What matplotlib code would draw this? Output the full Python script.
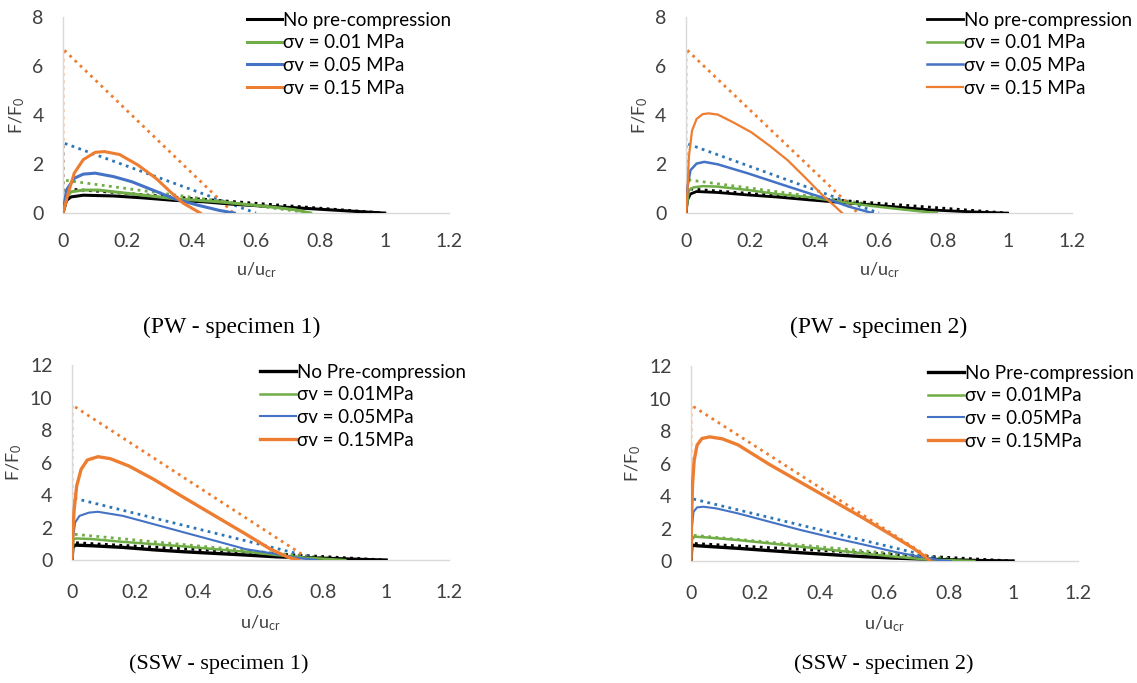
import matplotlib
matplotlib.use("Agg")
import matplotlib.pyplot as plt

plt.rcParams['font.family'] = ['Lato', 'DejaVu Sans']

# ---------------- PW - specimen 1 ----------------
pw1_blk_x = [0, 0.011, 0.025, 0.063, 0.157, 0.25, 0.345, 0.44, 0.53, 0.63, 0.72, 0.82, 0.91, 1.0]
pw1_blk_y = [0, 0.52, 0.66, 0.73, 0.70, 0.62, 0.52, 0.46, 0.36, 0.28, 0.22, 0.14, 0.07, 0.0]
pw1_grn_x = [0, 0.011, 0.025, 0.063, 0.11, 0.204, 0.345, 0.486, 0.627, 0.72, 0.77]
pw1_grn_y = [0, 0.66, 0.87, 0.94, 0.94, 0.80, 0.59, 0.46, 0.28, 0.14, 0.0]
pw1_blu_x = [0, 0.011, 0.035, 0.063, 0.10, 0.157, 0.214, 0.279, 0.345, 0.42, 0.486, 0.533]
pw1_blu_y = [0, 0.94, 1.42, 1.59, 1.63, 1.49, 1.28, 0.94, 0.59, 0.32, 0.11, 0.0]
pw1_org_x = [0, 0.016, 0.035, 0.063, 0.10, 0.129, 0.176, 0.232, 0.289, 0.345, 0.373, 0.427]
pw1_org_y = [0, 0.80, 1.63, 2.18, 2.48, 2.51, 2.39, 1.97, 1.42, 0.73, 0.41, 0.0]
pw1_blk_fit_x, pw1_blk_fit_y = [0, 0, 1.0], [0, 1.0, 0]
pw1_grn_fit_x, pw1_grn_fit_y = [0, 0, 0.77], [0, 1.35, 0]
pw1_blu_fit_x, pw1_blu_fit_y = [0, 0, 0.60], [0, 2.87, 0]
pw1_org_fit_x, pw1_org_fit_y = [0, 0, 0.53], [0, 6.7, 0]

# ---------------- PW - specimen 2 ----------------
pw2_blk_x = [0, 0.005, 0.014, 0.033, 0.099, 0.193, 0.288, 0.382, 0.476, 0.57, 0.665, 0.76, 0.854, 0.93, 1.0]
pw2_blk_y = [0, 0.54, 0.78, 0.88, 0.84, 0.74, 0.65, 0.54, 0.44, 0.34, 0.24, 0.13, 0.07, 0.03, 0.0]
pw2_grn_x = [0, 0.009, 0.024, 0.052, 0.099, 0.193, 0.288, 0.382, 0.476, 0.57, 0.665, 0.78]
pw2_grn_y = [0, 0.94, 1.05, 1.10, 1.08, 0.94, 0.77, 0.65, 0.47, 0.30, 0.16, 0.0]
pw2_blu_x = [0, 0.005, 0.014, 0.033, 0.057, 0.099, 0.193, 0.288, 0.382, 0.448, 0.505, 0.58]
pw2_blu_y = [0, 1.08, 1.75, 2.02, 2.09, 1.99, 1.62, 1.21, 0.81, 0.54, 0.27, 0.0]
pw2_org_x = [0, 0.005, 0.009, 0.019, 0.033, 0.052, 0.071, 0.099, 0.146, 0.203, 0.259, 0.316, 0.373, 0.429, 0.458, 0.486]
pw2_org_y = [0, 0.94, 2.29, 3.37, 3.84, 4.04, 4.07, 4.02, 3.71, 3.30, 2.76, 2.16, 1.42, 0.67, 0.34, 0.0]
pw2_blk_fit_x, pw2_blk_fit_y = [0, 0, 1.0], [0, 1.0, 0]
pw2_grn_fit_x, pw2_grn_fit_y = [0, 0, 0.78], [0, 1.37, 0]
pw2_blu_fit_x, pw2_blu_fit_y = [0, 0, 0.60], [0, 2.85, 0]
pw2_org_fit_x, pw2_org_fit_y = [0, 0, 0.535], [0, 6.7, 0]

# ---------------- SSW - specimen 1 ----------------
ssw1_blk_x = [0, 0.003, 0.01, 0.064, 0.162, 0.26, 0.357, 0.455, 0.553, 0.651, 0.75, 0.85, 0.95, 1.0]
ssw1_blk_y = [0, 0.78, 0.92, 0.88, 0.78, 0.63, 0.51, 0.41, 0.31, 0.20, 0.14, 0.08, 0.02, 0.0]
ssw1_grn_x = [0, 0.005, 0.015, 0.064, 0.162, 0.26, 0.357, 0.455, 0.553, 0.651, 0.75, 0.87]
ssw1_grn_y = [0, 1.29, 1.33, 1.29, 1.12, 0.98, 0.84, 0.67, 0.51, 0.31, 0.14, 0.0]
ssw1_blu_x = [0, 0.003, 0.01, 0.024, 0.054, 0.083, 0.162, 0.26, 0.357, 0.455, 0.553, 0.651, 0.71, 0.78]
ssw1_blu_y = [0, 1.29, 2.31, 2.72, 2.92, 2.97, 2.72, 2.21, 1.70, 1.19, 0.67, 0.37, 0.16, 0.0]
ssw1_org_x = [0, 0.003, 0.007, 0.015, 0.029, 0.049, 0.083, 0.122, 0.181, 0.26, 0.357, 0.455, 0.553, 0.632, 0.69, 0.72]
ssw1_org_y = [0, 1.7, 3.13, 4.56, 5.58, 6.16, 6.36, 6.24, 5.79, 4.97, 3.84, 2.72, 1.60, 0.67, 0.16, 0.0]
ssw1_blk_fit_x, ssw1_blk_fit_y = [0, 0, 1.0], [0, 1.08, 0]
ssw1_grn_fit_x, ssw1_grn_fit_y = [0, 0, 0.88], [0, 1.6, 0]
ssw1_blu_fit_x, ssw1_blu_fit_y = [0, 0, 0.80], [0, 3.84, 0]
ssw1_org_fit_x, ssw1_org_fit_y = [0, 0, 0.76], [0, 9.55, 0]

# ---------------- SSW - specimen 2 ----------------
ssw2_blk_x = [0, 0.003, 0.019, 0.146, 0.243, 0.34, 0.437, 0.534, 0.631, 0.728, 0.825, 0.92, 1.0]
ssw2_blk_y = [0, 0.98, 0.94, 0.78, 0.64, 0.51, 0.39, 0.27, 0.18, 0.12, 0.06, 0.02, 0.0]
ssw2_grn_x = [0, 0.003, 0.01, 0.049, 0.146, 0.243, 0.34, 0.437, 0.534, 0.631, 0.728, 0.88]
ssw2_grn_y = [0, 1.29, 1.50, 1.45, 1.29, 1.09, 0.88, 0.68, 0.47, 0.27, 0.10, 0.0]
ssw2_blu_x = [0, 0.003, 0.008, 0.019, 0.039, 0.078, 0.146, 0.243, 0.34, 0.437, 0.534, 0.631, 0.709, 0.767, 0.806]
ssw2_blu_y = [0, 2.11, 3.03, 3.30, 3.34, 3.24, 2.93, 2.42, 1.91, 1.45, 1.02, 0.57, 0.27, 0.06, 0.0]
ssw2_org_x = [0, 0.002, 0.005, 0.01, 0.019, 0.034, 0.058, 0.097, 0.146, 0.243, 0.34, 0.437, 0.534, 0.631, 0.689, 0.718, 0.743]
ssw2_org_y = [0, 2.7, 4.77, 6.2, 7.13, 7.54, 7.64, 7.52, 7.15, 5.95, 4.85, 3.75, 2.65, 1.50, 0.80, 0.40, 0.0]
ssw2_blk_fit_x, ssw2_blk_fit_y = [0, 0, 1.0], [0, 1.09, 0]
ssw2_grn_fit_x, ssw2_grn_fit_y = [0, 0, 0.88], [0, 1.6, 0]
ssw2_blu_fit_x, ssw2_blu_fit_y = [0, 0, 0.80], [0, 3.85, 0]
ssw2_org_fit_x, ssw2_org_fit_y = [0, 0, 0.757], [0, 9.6, 0]

labels_pw = ['No pre-compression', 'σv = 0.01 MPa', 'σv = 0.05 MPa', 'σv = 0.15 MPa']
labels_ssw = ['No Pre-compression', 'σv = 0.01MPa', 'σv = 0.05MPa', 'σv = 0.15MPa']
titles = ['(PW - specimen 1)', '(PW - specimen 2)', '(SSW - specimen 1)', '(SSW - specimen 2)']

colors = ['black', '#70AD47', '#4472C4', '#ED7D31']
fitcolors = ['black', '#70AD47', '#2E75B6', '#ED7D31']

panels = [
    dict(pos=[0.0554, 0.688, 0.3395, 0.287], ymax=8, yt=[0, 2, 4, 6, 8], labels=labels_pw,
         curves=[(pw1_blk_x, pw1_blk_y), (pw1_grn_x, pw1_grn_y), (pw1_blu_x, pw1_blu_y), (pw1_org_x, pw1_org_y)],
         fits=[(pw1_blk_fit_x, pw1_blk_fit_y), (pw1_grn_fit_x, pw1_grn_fit_y), (pw1_blu_fit_x, pw1_blu_fit_y), (pw1_org_fit_x, pw1_org_fit_y)],
         lws=[2.2, 2.2, 2.2, 2.2], title_y=0.52, title_dx=-0.021, title_fs=17,
         leg=(1.03, 1.075), xpad=14, xlpad=8),
    dict(pos=[0.6033, 0.688, 0.3395, 0.287], ymax=8, yt=[0, 2, 4, 6, 8], labels=labels_pw,
         curves=[(pw2_blk_x, pw2_blk_y), (pw2_grn_x, pw2_grn_y), (pw2_blu_x, pw2_blu_y), (pw2_org_x, pw2_org_y)],
         fits=[(pw2_blk_fit_x, pw2_blk_fit_y), (pw2_grn_fit_x, pw2_grn_fit_y), (pw2_blu_fit_x, pw2_blu_fit_y), (pw2_org_fit_x, pw2_org_fit_y)],
         lws=[2.0, 1.8, 1.8, 1.6], title_y=0.52, title_dx=0.0, title_fs=17,
         leg=(1.18, 1.075), xpad=14, xlpad=8),
    dict(pos=[0.0633, 0.180, 0.3316, 0.2855], ymax=12, yt=[0, 2, 4, 6, 8, 10, 12], labels=labels_ssw,
         curves=[(ssw1_blk_x, ssw1_blk_y), (ssw1_grn_x, ssw1_grn_y), (ssw1_blu_x, ssw1_blu_y), (ssw1_org_x, ssw1_org_y)],
         fits=[(ssw1_blk_fit_x, ssw1_blk_fit_y), (ssw1_grn_fit_x, ssw1_grn_fit_y), (ssw1_blu_fit_x, ssw1_blu_fit_y), (ssw1_org_fit_x, ssw1_org_fit_y)],
         lws=[2.4, 1.8, 1.5, 2.4], title_y=0.028, title_dx=-0.037, title_fs=16,
         leg=(1.07, 1.055), xpad=17, xlpad=9),
    dict(pos=[0.6077, 0.1786, 0.340, 0.2855], ymax=12, yt=[0, 2, 4, 6, 8, 10, 12], labels=labels_ssw,
         curves=[(ssw2_blk_x, ssw2_blk_y), (ssw2_grn_x, ssw2_grn_y), (ssw2_blu_x, ssw2_blu_y), (ssw2_org_x, ssw2_org_y)],
         fits=[(ssw2_blk_fit_x, ssw2_blk_fit_y), (ssw2_grn_fit_x, ssw2_grn_fit_y), (ssw2_blu_fit_x, ssw2_blu_fit_y), (ssw2_org_fit_x, ssw2_org_fit_y)],
         lws=[2.4, 1.8, 1.5, 2.4], title_y=0.028, title_dx=0.0, title_fs=16,
         leg=(1.17, 1.055), xpad=17, xlpad=9),
]

fig = plt.figure(figsize=(11.37, 6.83), dpi=100)

for i, p in enumerate(panels):
    ax = fig.add_axes(p['pos'])
    for (fx, fy), c in zip(p['fits'], fitcolors):
        ax.plot(fx, fy, color=c, lw=2.0, ls=(0, (1, 1.6)), dash_capstyle='butt', zorder=2)
    for (cx, cy), c, lw, lab in zip(p['curves'], colors, p['lws'], p['labels']):
        ax.plot(cx, cy, color=c, lw=lw, label=lab, zorder=3, solid_joinstyle='round')
    ax.set_xlim(0, 1.2)
    ax.set_ylim(0, p['ymax'])
    ax.set_xticks([0, 0.2, 0.4, 0.6, 0.8, 1, 1.2])
    ax.set_xticklabels(['0', '0.2', '0.4', '0.6', '0.8', '1', '1.2'])
    ax.set_yticks(p['yt'])
    for s in ['top', 'right']:
        ax.spines[s].set_visible(False)
    for s in ['left', 'bottom']:
        ax.spines[s].set_color('#D9D9D9')
        ax.spines[s].set_linewidth(1.0)
    ax.tick_params(length=0, labelsize=14, colors='#404040')
    ax.tick_params(axis='x', pad=p['xpad'])
    ax.tick_params(axis='y', pad=14)
    ax.set_xlabel(r'$\mathregular{u/u_{cr}}$', fontsize=13, color='#404040', labelpad=p['xlpad'])
    ax.set_ylabel(r'$\mathregular{F/F_0}$', fontsize=13, color='#404040', labelpad=4)
    ax.legend(loc='upper right', bbox_to_anchor=p['leg'], frameon=False, fontsize=13.5,
              handlelength=1.9, handletextpad=0.05, labelspacing=0.3, borderpad=0)
    cx = p['pos'][0] + p['pos'][2] / 2
    fig.text(cx + p['title_dx'], p['title_y'], titles[i], ha='center', va='center',
             fontsize=p['title_fs'], family='Liberation Serif', color='black')

fig.savefig('out.png', dpi=100)
